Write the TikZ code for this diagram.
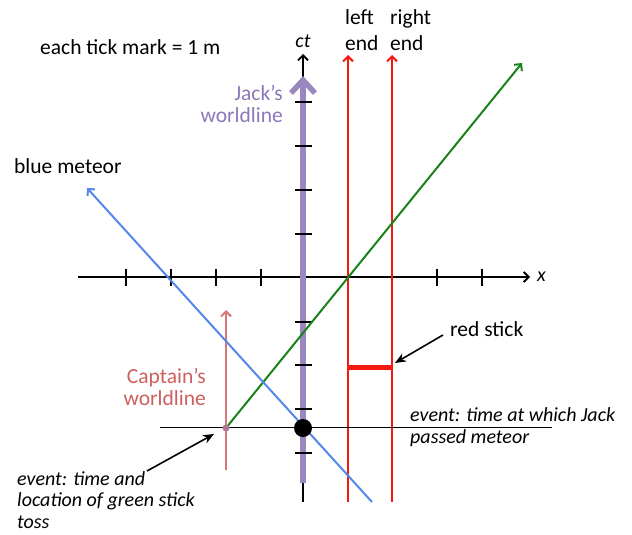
\documentclass[tikz,border=0pt]{standalone}
\usepackage{fontspec}
\setmainfont{Carlito}
\usetikzlibrary{arrows.meta}
\definecolor{jackpurple}{RGB}{155,135,192}
\definecolor{jacktext}{RGB}{140,120,185}
\definecolor{stickred}{RGB}{245,25,15}
\definecolor{greenline}{RGB}{25,130,25}
\definecolor{meteorblue}{RGB}{85,135,235}
\definecolor{captpink}{RGB}{215,120,120}
\definecolor{capttext}{RGB}{205,95,95}
\definecolor{captdot}{RGB}{175,120,150}
\begin{document}
\begin{tikzpicture}[x=1pt,y=-1pt,
  lbl/.style={font=\fontsize{21.5}{22}\selectfont, inner sep=0pt},
  ilbl/.style={font=\fontsize{20}{21.5}\selectfont\itshape, inner sep=0pt},
  axisline/.style={black, line width=1.8pt},
  tickmark/.style={black, line width=1.8pt},
  barb/.style={-{Straight Barb[length=5pt,width=10pt]}},
  worldred/.style={stickred, line width=2pt, barb},
  annot/.style={black, line width=1.6pt, -{Stealth[length=11pt,width=9pt]}}
]
\useasboundingbox (0,0) rectangle (632,535);

% axes
\coordinate (xl) at (78,277);
\coordinate (xr) at (530,277);
\coordinate (ctb) at (303,502);
\coordinate (ctt) at (303,54);
\draw[axisline, barb] (xl) -- (xr);
\foreach \x in {126,171,216,261,348,392,437,482}
  \draw[tickmark] (\x,269) -- (\x,286);
\draw[axisline, barb] (ctb) -- (ctt);

% red stick ends
\coordinate (lb) at (348,502);
\coordinate (lt) at (348,55);
\coordinate (rb) at (392,502);
\coordinate (rt) at (392,55);
\draw[worldred] (lb) -- (lt);
\draw[worldred] (rb) -- (rt);
\coordinate (sl) at (348,367);
\coordinate (sr) at (392,367);
\draw[stickred, line width=5pt] (sl) -- (sr);

% Jack's worldline
\coordinate (jb) at (303,483);
\coordinate (jt) at (303,76);
\draw[jackpurple, line width=6pt, -{Straight Barb[length=13pt,width=24pt,line width=5.5pt]}] (jb) -- (jt);
\foreach \y in {102,146,190,234,322,365,409,453}
  \draw[tickmark] (295,\y) -- (312,\y);

% event line
\coordinate (el) at (160,427);
\coordinate (er) at (552,427);
\draw[black, line width=1pt] (el) -- (er);

% captain's worldline
\coordinate (cb) at (226,470);
\coordinate (ct) at (226,310);
\draw[captpink, line width=2pt, -{Straight Barb[length=5pt,width=10pt]}] (cb) -- (ct);

% green stick
\coordinate (toss) at (226,428);
\coordinate (gt) at (522,63);
\draw[greenline, line width=2pt, barb] (toss) -- (gt);

% blue meteor
\coordinate (mb) at (372,502);
\coordinate (mt) at (87,188);
\draw[meteorblue, line width=2pt, barb] (mb) -- (mt);

% events
\node[circle, fill=black, inner sep=0pt, minimum size=18pt] (pass) at (303,428) {};
\node[circle, fill=captdot, inner sep=0pt, minimum size=7pt] (tossdot) at (toss) {};

% labels
\node[lbl, anchor=west] (tick) at (40,47) {each tick mark = 1 m};
\node[ilbl] (ctlabel) at (303,41) {ct};
\node[lbl, anchor=west, align=left, font=\fontsize{21.5}{26}\selectfont] (leftend) at (345,30) {left\\end};
\node[lbl, anchor=west, align=left, font=\fontsize{21.5}{26}\selectfont] (rightend) at (390,30) {right\\end};
\node[lbl, anchor=east, align=right, text=jacktext] (jack) at (283,104) {Jack’s\\worldline};
\node[lbl, anchor=west] (meteor) at (14,166) {blue meteor};
\node[ilbl, anchor=west] (xlabel) at (537,277) {x};
\node[lbl, anchor=west] (redstick) at (450,329) {red stick};
\node[lbl, anchor=east, align=right, text=capttext] (capt) at (206,387) {Captain’s\\worldline};
\node[ilbl, anchor=west, align=left] (passtext) at (410,427) {event: time at which Jack\\passed meteor};
\node[ilbl, anchor=west, align=left, font=\fontsize{20}{21.5}\selectfont\itshape] (tosstext) at (17,500) {event: time and\\location of green stick\\toss};

% annotation arrows
\coordinate (rsa) at (443,335);
\coordinate (rse) at (395,363);
\draw[annot] (rsa) -- (rse);
\coordinate (tsa) at (147,471);
\coordinate (tse) at (214,434);
\draw[annot] (tsa) -- (tse);
\end{tikzpicture}
\end{document}
